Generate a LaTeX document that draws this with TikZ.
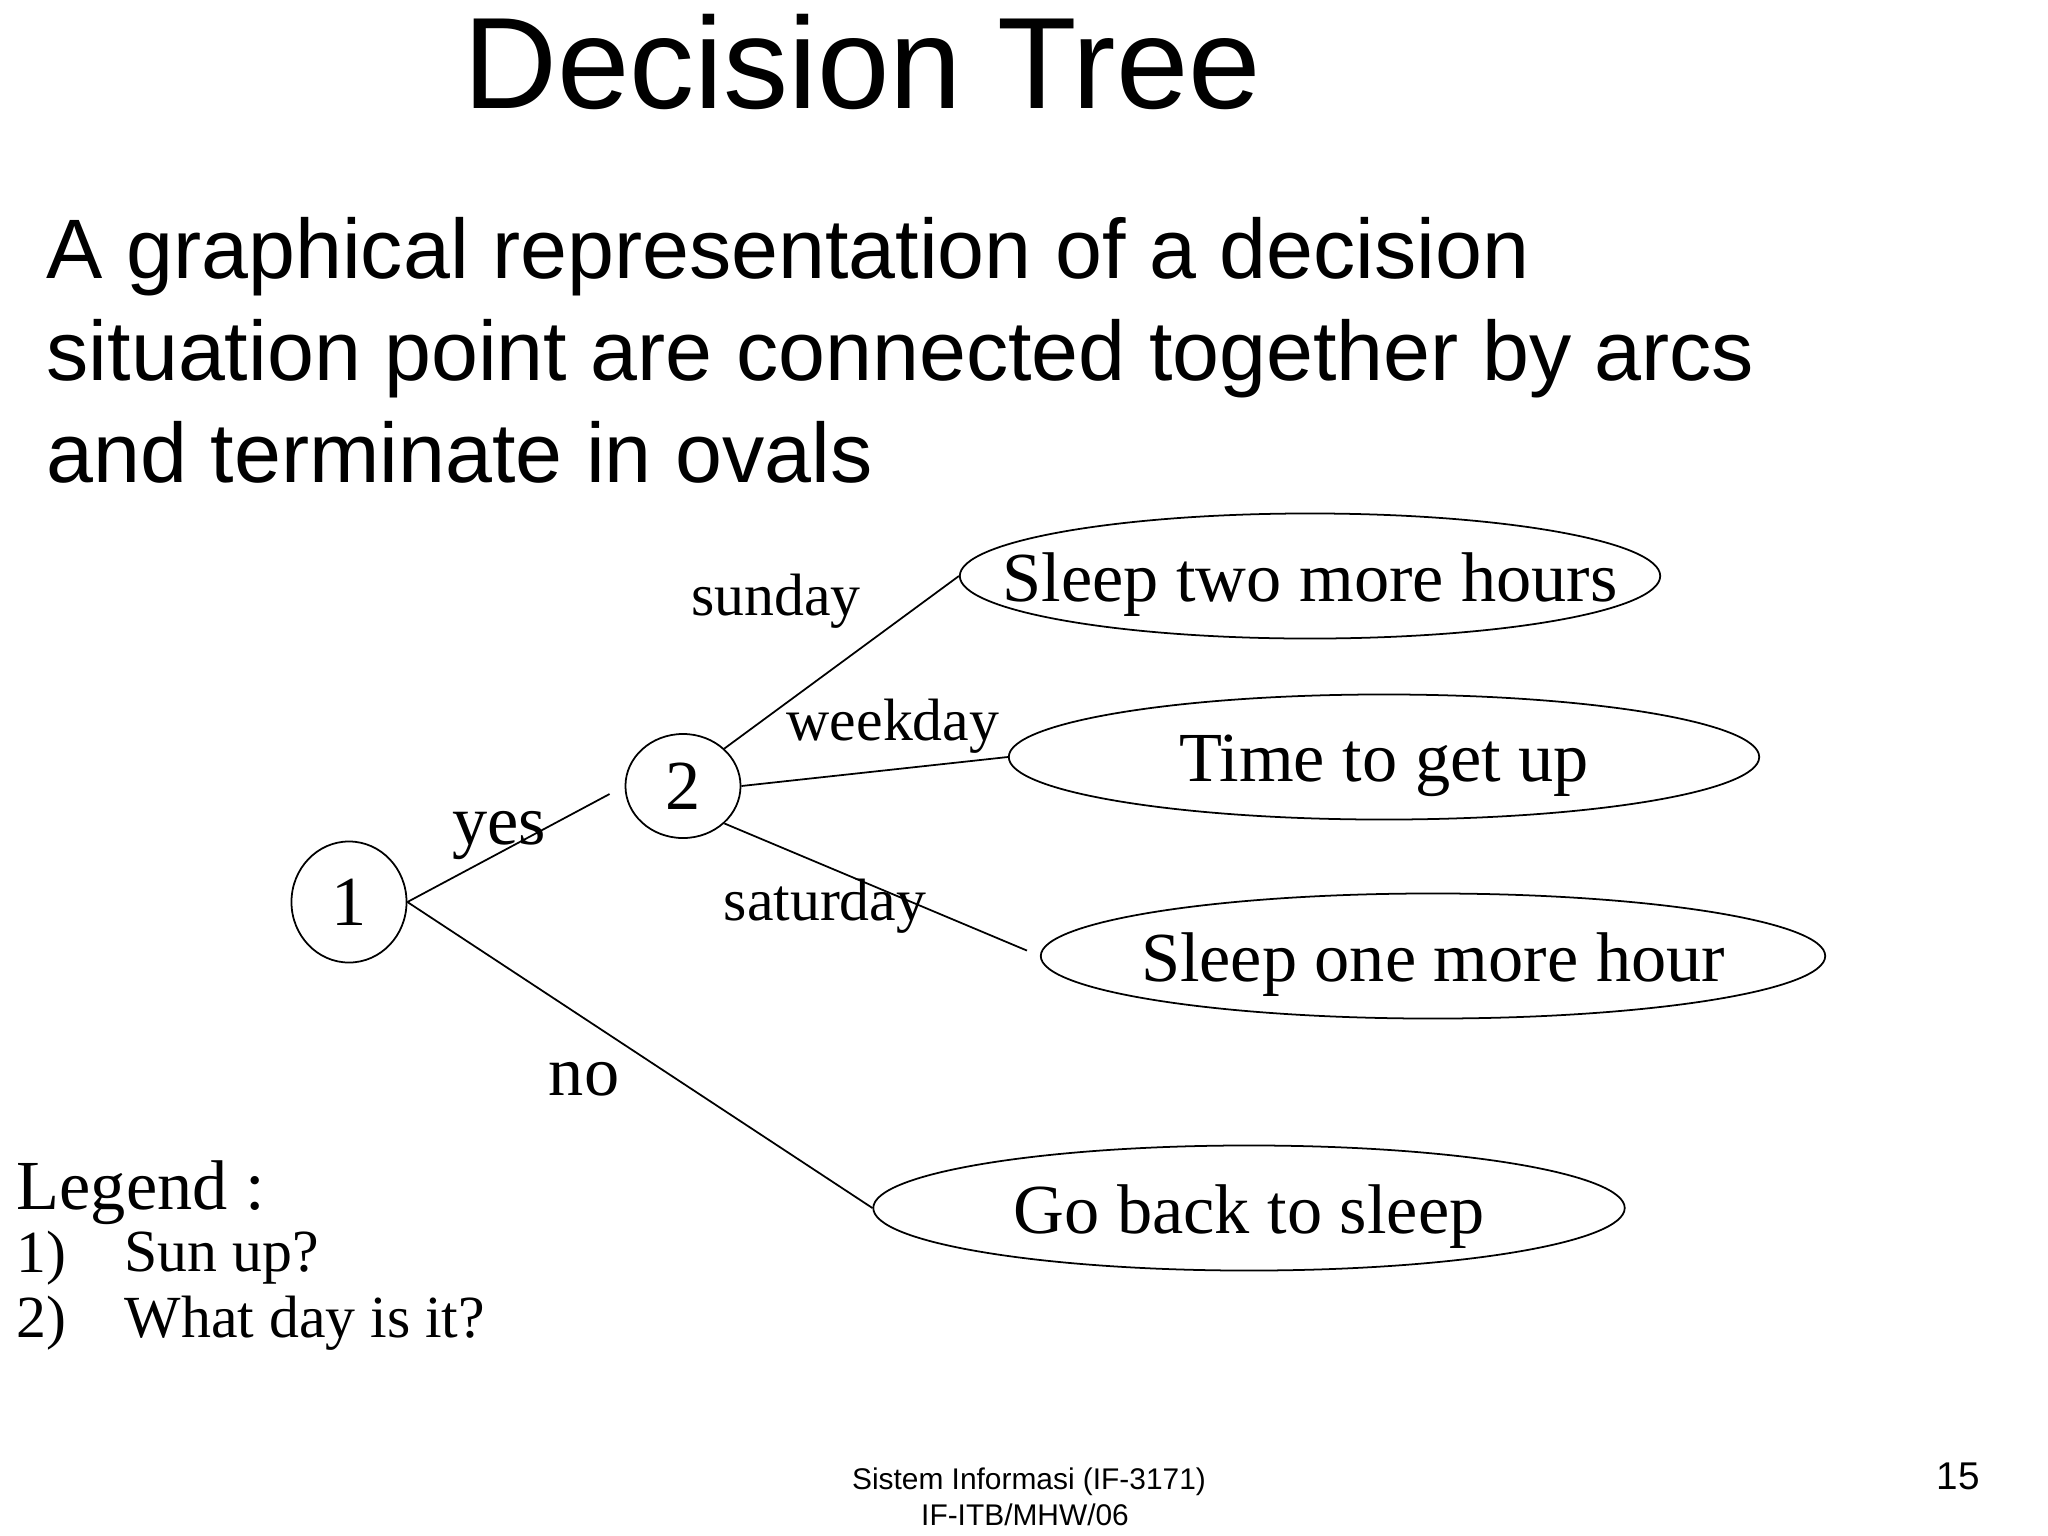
\documentclass[tikz,border=0pt]{standalone}
\usepackage{fontspec}
\setmainfont{Liberation Serif}
\newfontfamily\slidefont{Liberation Sans}
\usetikzlibrary{shapes,positioning}
\newcommand{\fsz}[1]{\fontsize{#1}{1.2\dimexpr#1pt\relax}\selectfont}
\newcommand{\ovaltext}[1]{\makebox[0pt]{\raisebox{-2.5pt}[\height][\depth]{#1}}}
\tikzset{
  chance/.style={draw,ellipse,inner sep=0pt,line width=0.5pt,font=\fsz{20}},
  outcome/.style={draw,ellipse,inner sep=0pt,minimum height=1.25cm,line width=0.5pt,font=\fsz{20}},
  arc/.style={line width=0.5pt},
  lbl/.style={font=\fsz{17}},
  body/.style={anchor=base west,inner sep=0pt,font=\slidefont\fsz{24}},
}

\begin{document}
\begin{tikzpicture}[x=0.01cm,y=-0.01cm]
    \useasboundingbox[fill=white] (0,0) rectangle (2048,1536);
    % title and text
    \node[anchor=base,inner sep=0pt,font=\slidefont\fsz{37}] (title) at (862,108) {Decision Tree};
    \node[body] (l1) at (46,278) {A graphical representation of a decision};
    \node[body] (l2) at (46,380) {situation point are connected together by arcs};
    \node[body] (l3) at (46,482) {and terminate in ovals};
    % decision points
    \node[chance,minimum width=1.15cm,minimum height=1.21cm] (n1) at (349,902) {1};
    \node[chance,minimum width=1.15cm,minimum height=1.04cm] (n2) at (683,786) {2};
    % outcomes
    \node[outcome,minimum width=7.0cm] (o1) at (1310,576) {\ovaltext{Sleep two more hours}};
    \node[outcome,minimum width=7.5cm] (o2) at (1384,757) {\ovaltext{Time to get up}};
    \node[outcome,minimum width=7.84cm] (o3) at (1433,956) {\ovaltext{Sleep one more hour}};
    \node[outcome,minimum width=7.51cm] (o4) at (1249,1208) {\ovaltext{Go back to sleep}};
    % arcs
    \draw[arc,shorten >=0.17cm] (n1.east) -- (n2.west);
    \draw[arc] (n1.east) -- (o4.west);
    \draw[arc] (n2.north east) -- (o1.west);
    \draw[arc] (n2.east) -- (o2.west);
    \draw[arc,shorten >=0.14cm] (n2.south east) -- (o3.west);
    \node[font=\fsz{20}] (yes) at (499,836) {yes};
    \node[font=\fsz{20}] (no) at (584,1079) {no};
    \node[lbl] (sun) at (776,601) {sunday};
    \node[lbl] (wk) at (893,726) {weekday};
    \node[lbl] (sat) at (825,906) {saturday};
    % legend
    \node[anchor=west,inner sep=0pt,font=\fsz{20}] (leg) at (16,1193) {Legend :};
    \node[anchor=west,inner sep=0pt,font=\fsz{17}] (k1) at (16,1258) {1)};
    \node[anchor=west,inner sep=0pt,font=\fsz{17}] (q1) at (124,1258) {Sun up?};
    \node[anchor=west,inner sep=0pt,font=\fsz{17}] (k2) at (16,1323) {2)};
    \node[anchor=west,inner sep=0pt,font=\fsz{17}] (q2) at (124,1323) {What day is it?};
    % footer
    \node[anchor=base,inner sep=0pt,font=\slidefont\fsz{8.5}] (f1) at (1029,1489) {Sistem Informasi (IF-3171)};
    \node[anchor=base,inner sep=0pt,font=\slidefont\fsz{8.5}] (f2) at (1025,1525) {IF-ITB/MHW/06};
    \node[anchor=base,inner sep=0pt,font=\slidefont\fsz{11}] (pg) at (1958,1489) {15};
\end{tikzpicture}
\end{document}
